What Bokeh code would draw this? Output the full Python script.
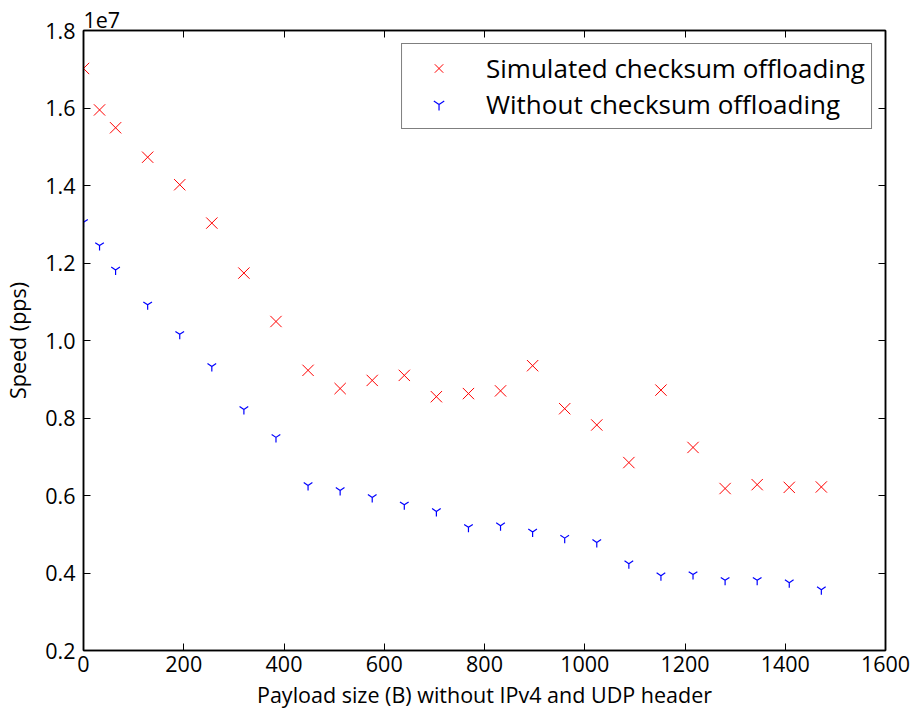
from bokeh.plotting import figure
from bokeh.models import (LinearAxis, Range1d, Legend, LegendItem,
                          CustomJSTickFormatter, FixedTicker,
                          CustomLabelingPolicy)
from bokeh.embed import file_html
from bokeh.resources import INLINE

# ---- data ----
payload = [0, 32, 64, 128, 192, 256, 320, 384, 448, 512, 576, 640, 704, 768,
           832, 896, 960, 1024, 1088, 1152, 1216, 1280, 1344, 1408, 1472]
speed_sim = [17.02e6, 15.95e6, 15.49e6, 14.73e6, 14.02e6, 13.03e6, 11.74e6,
             10.49e6, 9.23e6, 8.76e6, 8.97e6, 9.10e6, 8.55e6, 8.63e6, 8.70e6,
             9.35e6, 8.24e6, 7.82e6, 6.85e6, 8.72e6, 7.24e6, 6.18e6, 6.28e6,
             6.21e6, 6.22e6]
speed_nocs = [13.05e6, 12.45e6, 11.82e6, 10.92e6, 10.16e6, 9.33e6, 8.22e6,
              7.50e6, 6.26e6, 6.13e6, 5.95e6, 5.76e6, 5.59e6, 5.18e6, 5.22e6,
              5.06e6, 4.90e6, 4.79e6, 4.24e6, 3.93e6, 3.96e6, 3.81e6, 3.81e6,
              3.75e6, 3.57e6]
x_ticks = [0, 200, 400, 600, 800, 1000, 1200, 1400, 1600]
y_ticks = [0.2e7, 0.4e7, 0.6e7, 0.8e7, 1.0e7, 1.2e7, 1.4e7, 1.6e7, 1.8e7]
label_sim = "Simulated checksum offloading"
label_nocs = "Without checksum offloading"
offset_text = "1e7"

FONT = "Open Sans"
TICK_FS = "21.5px"
LABEL_FS = "21.5px"

p = figure(frame_width=802, frame_height=620, output_backend="svg",
           toolbar_location=None,
           x_range=Range1d(0, 1600), y_range=Range1d(0.2e7, 1.8e7),
           x_axis_label="Payload size (B) without IPv4 and UDP header",
           y_axis_label="Speed (pps)",
           min_border_left=80, min_border_top=30, min_border_right=26,
           min_border_bottom=62)
p.xgrid.visible = False
p.ygrid.visible = False
p.outline_line_color = "black"
p.outline_line_width = 1.5
p.background_fill_color = "white"
p.border_fill_color = "white"

p.title.text = offset_text
p.title.text_font = FONT
p.title.text_font_size = "21.5px"
p.title.text_font_style = "normal"
p.title.text_color = "black"
p.title.text_line_height = 1.0
p.title.align = "left"
p.title.standoff = 6
p.title.offset = 0

fmt = CustomJSTickFormatter(code="return (tick/1e7).toFixed(1);")
no_labels = CustomLabelingPolicy(code="return new Set();")

def style_axis(ax, show_labels=True):
    ax.axis_line_color = "black"
    ax.axis_line_width = 1.5
    ax.major_tick_in = 7
    ax.major_tick_out = 0
    ax.major_tick_line_color = "black"
    ax.major_tick_line_width = 1
    ax.minor_tick_line_color = None
    ax.major_label_text_font = FONT
    ax.major_label_text_font_size = TICK_FS
    ax.major_label_text_color = "black"
    ax.axis_label_text_font = FONT
    ax.axis_label_text_font_size = LABEL_FS
    ax.axis_label_text_font_style = "normal"
    ax.axis_label_text_color = "black"
    if not show_labels:
        ax.major_label_policy = no_labels
        ax.major_label_text_font_size = "0px"
        ax.major_label_standoff = 0

xa = p.xaxis[0]
ya = p.yaxis[0]
xa.ticker = FixedTicker(ticks=x_ticks)
ya.ticker = FixedTicker(ticks=y_ticks)
ya.formatter = fmt
style_axis(xa)
style_axis(ya)
xa.major_label_standoff = 5
xa.axis_label_standoff = 5
ya.major_label_standoff = 8
ya.axis_label_standoff = 10

top = LinearAxis(ticker=FixedTicker(ticks=x_ticks))
right = LinearAxis(ticker=FixedTicker(ticks=y_ticks))
style_axis(top, False)
style_axis(right, False)
p.add_layout(top, "above")
p.add_layout(right, "right")

r1 = p.scatter(payload, speed_sim, marker="x", size=16, line_color="red",
               line_width=1)
r2 = p.scatter(payload, speed_nocs, marker="y", size=10, line_color="blue",
               line_width=1.2)

legend = Legend(items=[LegendItem(label=label_sim, renderers=[r1]),
                       LegendItem(label=label_nocs, renderers=[r2])],
                location="top_right")
legend.label_text_font = FONT
legend.label_text_font_size = "26px"
legend.label_text_color = "black"
legend.border_line_color = "black"
legend.border_line_width = 1.5
legend.background_fill_alpha = 1
legend.padding = 6
legend.spacing = 0
legend.glyph_height = 30
legend.label_height = 30
legend.glyph_width = 61
legend.label_standoff = 17
legend.margin = 13
p.add_layout(legend)

open("out.html", "w").write(file_html(p, INLINE))
